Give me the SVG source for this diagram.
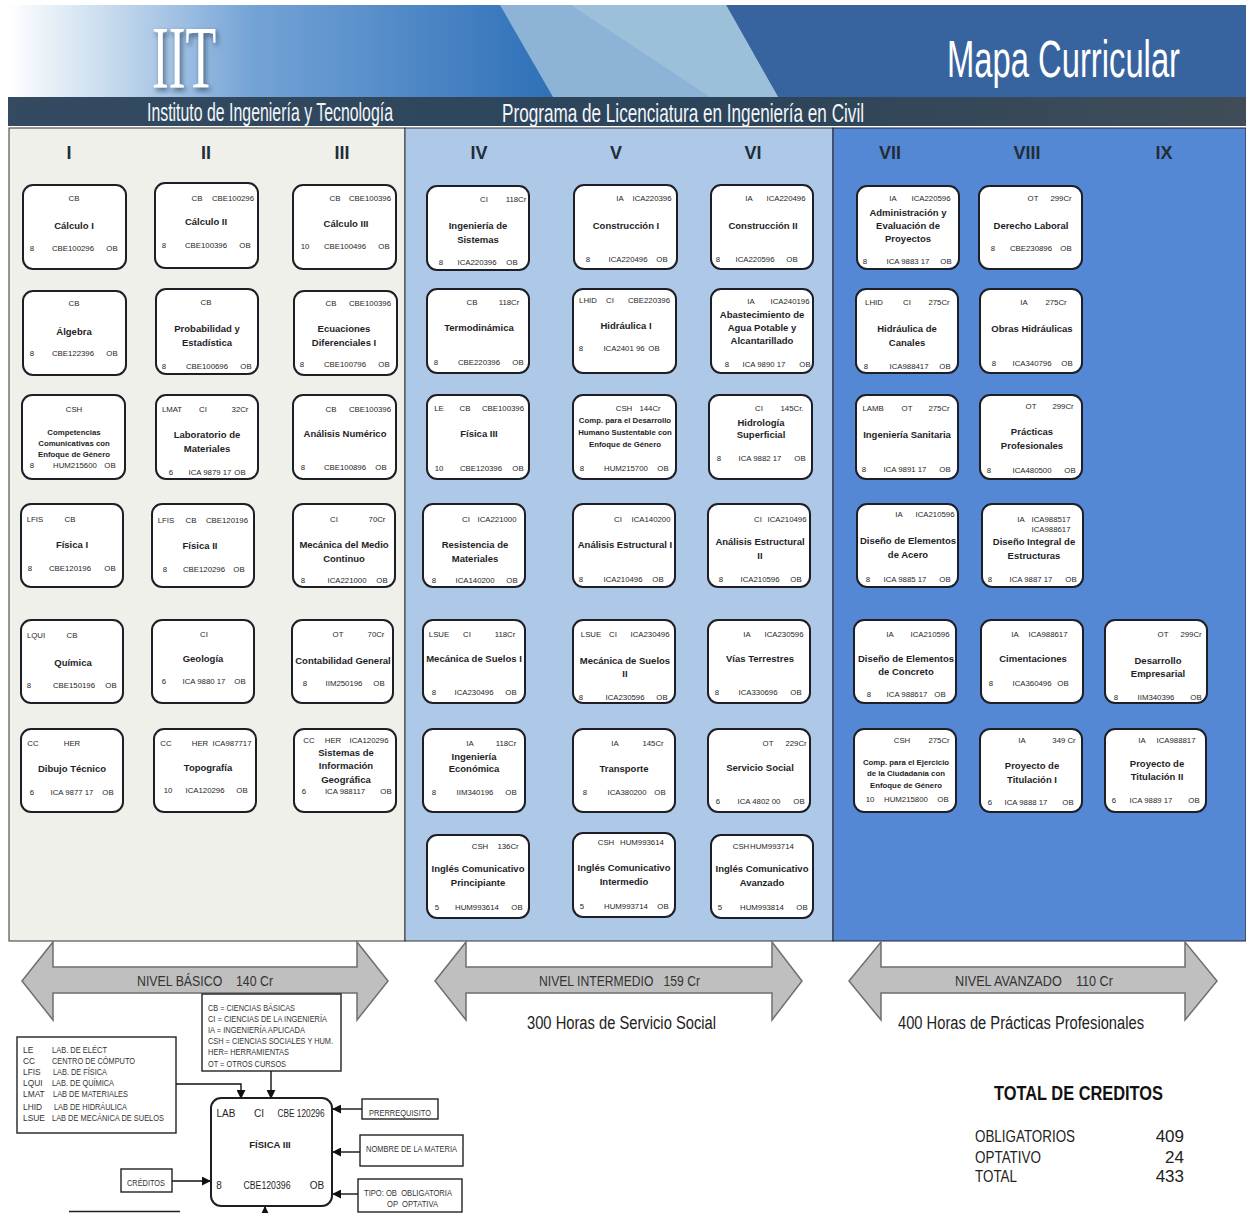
<svg xmlns="http://www.w3.org/2000/svg" width="1246" height="1213" viewBox="0 0 1246 1213">
<style>
text{font-family:"Liberation Sans",Arial,sans-serif;fill:#1e1e26}
.s{font-size:7.8px;text-anchor:middle;dominant-baseline:central}
.h{font-size:9.5px;font-weight:bold;text-anchor:middle;dominant-baseline:central}
.c{font-size:7.8px;font-weight:bold;text-anchor:middle;dominant-baseline:central}
.n{fill:#fff;stroke:#1e1e26;stroke-width:2;rx:10px;ry:10px}
.r{font-size:18px;font-weight:bold;text-anchor:middle;fill:#222c3a}
.l{fill:#fff;stroke:#222;stroke-width:1.4}
.m{font-size:8.4px;dominant-baseline:central;fill:#333}
.w{fill:#fff}
.a{fill:#bfbfbf;stroke:#6f6f6f;stroke-width:1.5}
.v{font-size:14px;fill:#333;dominant-baseline:central}
.e{stroke:#111;stroke-width:1.4;fill:none}
.g{font-size:17px;fill:#222;dominant-baseline:central}
</style>
<defs>
<linearGradient id="hg" x1="0" x2="1" y1="0" y2="0"><stop offset="0" stop-color="#fff"/><stop offset=".16" stop-color="#cfe0f0"/><stop offset=".45" stop-color="#74a3d6"/><stop offset="1" stop-color="#2f70b8"/></linearGradient>
<linearGradient id="bg" x1="0" x2="1" y1="0" y2="0"><stop offset="0" stop-color="#334a60"/><stop offset=".6" stop-color="#2c4459"/><stop offset="1" stop-color="#404d58"/></linearGradient>
<filter id="sh" x="-20%" y="-20%" width="150%" height="150%"><feDropShadow dx="2" dy="3" stdDeviation="2.5" flood-color="#123" flood-opacity=".6"/></filter>
<marker id="ar" viewBox="0 0 10 10" refX="9" refY="5" markerWidth="7" markerHeight="7" markerUnits="userSpaceOnUse" orient="auto"><path d="M0 0L10 5L0 10Z" fill="#111"/></marker>
<marker id="ab" viewBox="0 0 10 10" refX="9" refY="5" markerWidth="9" markerHeight="9" markerUnits="userSpaceOnUse" orient="auto"><path d="M0 0L10 5L0 10Z" fill="#111"/></marker>
</defs>
<rect id="page" width="1246" height="1213" fill="#fff"/>
<g id="header">
<rect x="8" y="5" width="1238" height="92" fill="#37649f"/>
<rect x="8" y="5" width="545" height="92" fill="url(#hg)"/>
<polygon points="500,5 726,5 778,97 553,97" fill="#8db4d6"/>
<polygon points="571,5 726,5 778,97 710,97" fill="#9cc0da"/>
<rect x="8" y="97" width="1238" height="29" fill="url(#bg)"/>
<text x="152" y="87" font-family="Liberation Serif" style="font-family:'Liberation Serif',serif;font-size:88px;fill:#fff;filter:url(#sh)" textLength="64" lengthAdjust="spacingAndGlyphs">IIT</text>
<text x="147" y="121" style="font-size:26px;fill:#f2f6fa" textLength="246" lengthAdjust="spacingAndGlyphs">Instituto de Ingeniería y Tecnología</text>
<text x="502" y="122" style="font-size:26px;fill:#f2f6fa" textLength="362" lengthAdjust="spacingAndGlyphs">Programa de  Licenciatura en Ingeniería en Civil</text>
<text x="947" y="77" style="font-size:52px;fill:#fff" textLength="233" lengthAdjust="spacingAndGlyphs">Mapa Curricular</text>
</g>
<g id="panels">
<rect x="9" y="128" width="396" height="813" fill="#eff0e9" stroke="#333" stroke-width="1"/>
<rect x="405" y="128" width="428" height="813" fill="#aec8e8" stroke="#333" stroke-width="1"/>
<rect x="833" y="128" width="413" height="813" fill="#5488d4" stroke="#223" stroke-width="1"/>
<text class="r" x="69" y="159">I</text><text class="r" x="206" y="159">II</text><text class="r" x="342" y="159">III</text><text class="r" x="479" y="159">IV</text><text class="r" x="616" y="159">V</text><text class="r" x="753" y="159">VI</text><text class="r" x="890" y="159">VII</text><text class="r" x="1027" y="159">VIII</text><text class="r" x="1164" y="159">IX</text>
</g>
<g id="nodes">
<g id="calculo1"><rect class="n" x="23" y="185" width="103" height="84"/><text class="s" x="74" y="198">CB</text><text class="h" x="74" y="225">Cálculo I</text><text class="s" x="32" y="248">8</text><text class="s" x="73" y="248">CBE100296</text><text class="s" x="112" y="248">OB</text></g>
<g id="calculo2"><rect class="n" x="155" y="183" width="103" height="85"/><text class="s" x="197" y="198">CB</text><text class="s" x="233" y="198">CBE100296</text><text class="h" x="206" y="221">Cálculo II</text><text class="s" x="164" y="245">8</text><text class="s" x="206" y="245">CBE100396</text><text class="s" x="245" y="245">OB</text></g>
<g id="calculo3"><rect class="n" x="293" y="185" width="103" height="84"/><text class="s" x="335" y="198">CB</text><text class="s" x="370" y="198">CBE100396</text><text class="h" x="346" y="223">Cálculo III</text><text class="s" x="305" y="246">10</text><text class="s" x="345" y="246">CBE100496</text><text class="s" x="384" y="246">OB</text></g>
<g id="sistemas"><rect class="n" x="427" y="186" width="102" height="84"/><text class="s" x="484" y="199">CI</text><text class="s" x="516" y="199">118Cr</text><text class="h" x="478" y="225">Ingeniería de</text><text class="h" x="478" y="239">Sistemas</text><text class="s" x="441" y="262">8</text><text class="s" x="477" y="262">ICA220396</text><text class="s" x="512" y="262">OB</text></g>
<g id="construccion1"><rect class="n" x="574" y="185" width="103" height="84"/><text class="s" x="620" y="198">IA</text><text class="s" x="652" y="198">ICA220396</text><text class="h" x="626" y="225">Construcción I</text><text class="s" x="588" y="259">8</text><text class="s" x="628" y="259">ICA220496</text><text class="s" x="662" y="259">OB</text></g>
<g id="construccion2"><rect class="n" x="711" y="185" width="102" height="84"/><text class="s" x="749" y="198">IA</text><text class="s" x="786" y="198">ICA220496</text><text class="h" x="763" y="225">Construcción II</text><text class="s" x="718" y="259">8</text><text class="s" x="755" y="259">ICA220596</text><text class="s" x="792" y="259">OB</text></g>
<g id="administracion"><rect class="n" x="857" y="186" width="102" height="83"/><text class="s" x="893" y="198">IA</text><text class="s" x="931" y="198">ICA220596</text><text class="h" x="908" y="212">Administración y</text><text class="h" x="908" y="225">Evaluación de</text><text class="h" x="908" y="238">Proyectos</text><text class="s" x="865" y="261">8</text><text class="s" x="908" y="261">ICA 9883 17</text><text class="s" x="946" y="261">OB</text></g>
<g id="derecho"><rect class="n" x="979" y="186" width="103" height="83"/><text class="s" x="1033" y="198">OT</text><text class="s" x="1061" y="198">299Cr</text><text class="h" x="1031" y="225">Derecho Laboral</text><text class="s" x="993" y="248">8</text><text class="s" x="1031" y="248">CBE230896</text><text class="s" x="1066" y="248">OB</text></g>

<g id="algebra"><rect class="n" x="23" y="291" width="103" height="84"/><text class="s" x="74" y="303">CB</text><text class="h" x="74" y="331">Álgebra</text><text class="s" x="32" y="353">8</text><text class="s" x="73" y="353">CBE122396</text><text class="s" x="112" y="353">OB</text></g>
<g id="probabilidad"><rect class="n" x="156" y="289" width="102" height="85"/><text class="s" x="206" y="302">CB</text><text class="h" x="207" y="328">Probabilidad y</text><text class="h" x="207" y="342">Estadística</text><text class="s" x="164" y="366">8</text><text class="s" x="207" y="366">CBE100696</text><text class="s" x="246" y="366">OB</text></g>
<g id="ecuaciones"><rect class="n" x="294" y="291" width="103" height="84"/><text class="s" x="331" y="303">CB</text><text class="s" x="370" y="303">CBE100396</text><text class="h" x="344" y="328">Ecuaciones</text><text class="h" x="344" y="342">Diferenciales I</text><text class="s" x="302" y="364">8</text><text class="s" x="345" y="364">CBE100796</text><text class="s" x="384" y="364">OB</text></g>
<g id="termodinamica"><rect class="n" x="427" y="289" width="102" height="84"/><text class="s" x="472" y="302">CB</text><text class="s" x="509" y="302">118Cr</text><text class="h" x="479" y="327">Termodinámica</text><text class="s" x="436" y="362">8</text><text class="s" x="479" y="362">CBE220396</text><text class="s" x="518" y="362">OB</text></g>
<g id="hidraulica1"><rect class="n" x="573" y="289" width="103" height="84"/><text class="s" x="588" y="300">LHID</text><text class="s" x="610" y="300">CI</text><text class="s" x="649" y="300">CBE220396</text><text class="h" x="626" y="325">Hidráulica I</text><text class="s" x="581" y="348">8</text><text class="s" x="624" y="348">ICA2401 96</text><text class="s" x="654" y="348">OB</text></g>
<g id="abastecimiento"><rect class="n" x="711" y="289" width="102" height="84"/><text class="s" x="751" y="301">IA</text><text class="s" x="790" y="301">ICA240196</text><text class="h" x="762" y="314">Abastecimiento de</text><text class="h" x="762" y="327">Agua Potable y</text><text class="h" x="762" y="340">Alcantarillado</text><text class="s" x="727" y="364">8</text><text class="s" x="764" y="364">ICA 9890 17</text><text class="s" x="805" y="364">OB</text></g>
<g id="canales"><rect class="n" x="856" y="289" width="102" height="84"/><text class="s" x="874" y="302">LHID</text><text class="s" x="907" y="302">CI</text><text class="s" x="939" y="302">275Cr</text><text class="h" x="907" y="328">Hidráulica de</text><text class="h" x="907" y="342">Canales</text><text class="s" x="866" y="366">8</text><text class="s" x="909" y="366">ICA988417</text><text class="s" x="945" y="366">OB</text></g>
<g id="obras"><rect class="n" x="980" y="289" width="102" height="84"/><text class="s" x="1024" y="302">IA</text><text class="s" x="1056" y="302">275Cr</text><text class="h" x="1032" y="328">Obras Hidráulicas</text><text class="s" x="994" y="363">8</text><text class="s" x="1032" y="363">ICA340796</text><text class="s" x="1067" y="363">OB</text></g>

<g id="competencias"><rect class="n" x="22" y="395" width="103" height="84"/><text class="s" x="74" y="409">CSH</text><text class="c" x="74" y="432">Competencias</text><text class="c" x="74" y="443">Comunicativas con</text><text class="c" x="74" y="454">Enfoque de Género</text><text class="s" x="32" y="465">8</text><text class="s" x="75" y="465">HUM215600</text><text class="s" x="110" y="465">OB</text></g>
<g id="labmateriales"><rect class="n" x="156" y="395" width="102" height="84"/><text class="s" x="172" y="409">LMAT</text><text class="s" x="203" y="409">CI</text><text class="s" x="240" y="409">32Cr</text><text class="h" x="207" y="434">Laboratorio de</text><text class="h" x="207" y="448">Materiales</text><text class="s" x="171" y="472">6</text><text class="s" x="210" y="472">ICA 9879 17</text><text class="s" x="240" y="472">OB</text></g>
<g id="numerico"><rect class="n" x="293" y="395" width="103" height="84"/><text class="s" x="331" y="409">CB</text><text class="s" x="370" y="409">CBE100396</text><text class="h" x="345" y="433">Análisis Numérico</text><text class="s" x="303" y="467">8</text><text class="s" x="345" y="467">CBE100896</text><text class="s" x="381" y="467">OB</text></g>
<g id="fisica3"><rect class="n" x="427" y="395" width="102" height="84"/><text class="s" x="439" y="408">LE</text><text class="s" x="465" y="408">CB</text><text class="s" x="503" y="408">CBE100396</text><text class="h" x="479" y="433">Física III</text><text class="s" x="439" y="468">10</text><text class="s" x="481" y="468">CBE120396</text><text class="s" x="518" y="468">OB</text></g>
<g id="desarrollohumano"><rect class="n" x="573" y="395" width="103" height="84"/><text class="s" x="624" y="408">CSH</text><text class="s" x="650" y="408">144Cr</text><text class="c" x="625" y="420">Comp. para el Desarrollo</text><text class="c" x="625" y="432">Humano Sustentable con</text><text class="c" x="625" y="444">Enfoque de Género</text><text class="s" x="582" y="468">8</text><text class="s" x="626" y="468">HUM215700</text><text class="s" x="663" y="468">OB</text></g>
<g id="hidrologia"><rect class="n" x="709" y="395" width="103" height="84"/><text class="s" x="759" y="408">CI</text><text class="s" x="792" y="408">145Cr.</text><text class="h" x="761" y="422">Hidrología</text><text class="h" x="761" y="434">Superficial</text><text class="s" x="719" y="458">8</text><text class="s" x="760" y="458">ICA 9882 17</text><text class="s" x="800" y="458">OB</text></g>
<g id="sanitaria"><rect class="n" x="856" y="395" width="102" height="84"/><text class="s" x="873" y="408">LAMB</text><text class="s" x="907" y="408">OT</text><text class="s" x="939" y="408">275Cr</text><text class="h" x="907" y="434">Ingeniería Sanitaria</text><text class="s" x="864" y="469">8</text><text class="s" x="905" y="469">ICA 9891 17</text><text class="s" x="945" y="469">OB</text></g>
<g id="practicas"><rect class="n" x="980" y="395" width="102" height="84"/><text class="s" x="1031" y="406">OT</text><text class="s" x="1063" y="406">299Cr</text><text class="h" x="1032" y="431">Prácticas</text><text class="h" x="1032" y="445">Profesionales</text><text class="s" x="989" y="470">8</text><text class="s" x="1032" y="470">ICA480500</text><text class="s" x="1070" y="470">OB</text></g>

<g id="fisica1"><rect class="n" x="21" y="504" width="102" height="83"/><text class="s" x="35" y="519">LFIS</text><text class="s" x="70" y="519">CB</text><text class="h" x="72" y="544">Física I</text><text class="s" x="30" y="568">8</text><text class="s" x="70" y="568">CBE120196</text><text class="s" x="110" y="568">OB</text></g>
<g id="fisica2"><rect class="n" x="152" y="504" width="102" height="83"/><text class="s" x="166" y="520">LFIS</text><text class="s" x="191" y="520">CB</text><text class="s" x="227" y="520">CBE120196</text><text class="h" x="200" y="545">Física II</text><text class="s" x="165" y="569">8</text><text class="s" x="204" y="569">CBE120296</text><text class="s" x="239" y="569">OB</text></g>
<g id="mediocontinuo"><rect class="n" x="293" y="504" width="102" height="83"/><text class="s" x="334" y="519">CI</text><text class="s" x="377" y="519">70Cr</text><text class="h" x="344" y="544">Mecánica del Medio</text><text class="h" x="344" y="558">Continuo</text><text class="s" x="303" y="580">8</text><text class="s" x="347" y="580">ICA221000</text><text class="s" x="382" y="580">OB</text></g>
<g id="resistencia"><rect class="n" x="423" y="504" width="102" height="83"/><text class="s" x="466" y="519">CI</text><text class="s" x="497" y="519">ICA221000</text><text class="h" x="475" y="544">Resistencia de</text><text class="h" x="475" y="558">Materiales</text><text class="s" x="434" y="580">8</text><text class="s" x="475" y="580">ICA140200</text><text class="s" x="512" y="580">OB</text></g>
<g id="estructural1"><rect class="n" x="573" y="504" width="102" height="83"/><text class="s" x="618" y="519">CI</text><text class="s" x="651" y="519">ICA140200</text><text class="h" x="625" y="544">Análisis Estructural I</text><text class="s" x="581" y="579">8</text><text class="s" x="623" y="579">ICA210496</text><text class="s" x="658" y="579">OB</text></g>
<g id="estructural2"><rect class="n" x="708" y="504" width="102" height="83"/><text class="s" x="758" y="519">CI</text><text class="s" x="787" y="519">ICA210496</text><text class="h" x="760" y="541">Análisis Estructural</text><text class="h" x="760" y="555">II</text><text class="s" x="721" y="579">8</text><text class="s" x="760" y="579">ICA210596</text><text class="s" x="796" y="579">OB</text></g>
<g id="acero"><rect class="n" x="857" y="504" width="101" height="83"/><text class="s" x="899" y="514">IA</text><text class="s" x="935" y="514">ICA210596</text><text class="h" x="908" y="540">Diseño de Elementos</text><text class="h" x="908" y="554">de Acero</text><text class="s" x="868" y="579">8</text><text class="s" x="905" y="579">ICA 9885 17</text><text class="s" x="945" y="579">OB</text></g>
<g id="integral"><rect class="n" x="982" y="504" width="101" height="83"/><text class="s" x="1021" y="519">IA</text><text class="s" x="1051" y="519">ICA988517</text><text class="s" x="1051" y="529.5">ICA988617</text><text class="h" x="1034" y="541">Diseño Integral de</text><text class="h" x="1034" y="555">Estructuras</text><text class="s" x="990" y="579">8</text><text class="s" x="1031" y="579">ICA 9887 17</text><text class="s" x="1071" y="579">OB</text></g>

<g id="quimica"><rect class="n" x="21" y="620" width="102" height="83"/><text class="s" x="36" y="635">LQUI</text><text class="s" x="72" y="635">CB</text><text class="h" x="73" y="662">Química</text><text class="s" x="29" y="685">8</text><text class="s" x="74" y="685">CBE150196</text><text class="s" x="111" y="685">OB</text></g>
<g id="geologia"><rect class="n" x="152" y="620" width="102" height="83"/><text class="s" x="204" y="634">CI</text><text class="h" x="203" y="658">Geología</text><text class="s" x="164" y="681">6</text><text class="s" x="204" y="681">ICA 9880 17</text><text class="s" x="240" y="681">OB</text></g>
<g id="contabilidad"><rect class="n" x="292" y="620" width="101" height="83"/><text class="s" x="338" y="634">OT</text><text class="s" x="376" y="634">70Cr</text><text class="h" x="343" y="660">Contabilidad General</text><text class="s" x="305" y="683">8</text><text class="s" x="344" y="683">IIM250196</text><text class="s" x="379" y="683">OB</text></g>
<g id="suelos1"><rect class="n" x="423" y="620" width="102" height="83"/><text class="s" x="439" y="634">LSUE</text><text class="s" x="467" y="634">CI</text><text class="s" x="505" y="634">118Cr</text><text class="h" x="474" y="658">Mecánica de Suelos I</text><text class="s" x="434" y="692">8</text><text class="s" x="474" y="692">ICA230496</text><text class="s" x="511" y="692">OB</text></g>
<g id="suelos2"><rect class="n" x="573" y="620" width="102" height="83"/><text class="s" x="591" y="634">LSUE</text><text class="s" x="613" y="634">CI</text><text class="s" x="650" y="634">ICA230496</text><text class="h" x="625" y="660">Mecánica de Suelos</text><text class="h" x="625" y="673">II</text><text class="s" x="581" y="697">8</text><text class="s" x="625" y="697">ICA230596</text><text class="s" x="662" y="697">OB</text></g>
<g id="vias"><rect class="n" x="708" y="620" width="102" height="83"/><text class="s" x="747" y="634">IA</text><text class="s" x="784" y="634">ICA230596</text><text class="h" x="760" y="658">Vías Terrestres</text><text class="s" x="717" y="692">8</text><text class="s" x="758" y="692">ICA330696</text><text class="s" x="796" y="692">OB</text></g>
<g id="concreto"><rect class="n" x="854" y="620" width="102" height="83"/><text class="s" x="890" y="634">IA</text><text class="s" x="930" y="634">ICA210596</text><text class="h" x="906" y="658">Diseño de Elementos</text><text class="h" x="906" y="671">de Concreto</text><text class="s" x="869" y="694">8</text><text class="s" x="907" y="694">ICA 988617</text><text class="s" x="940" y="694">OB</text></g>
<g id="cimentaciones"><rect class="n" x="981" y="620" width="102" height="83"/><text class="s" x="1015" y="634">IA</text><text class="s" x="1048" y="634">ICA988617</text><text class="h" x="1033" y="658">Cimentaciones</text><text class="s" x="991" y="683">8</text><text class="s" x="1032" y="683">ICA360496</text><text class="s" x="1063" y="683">OB</text></g>
<g id="empresarial"><rect class="n" x="1105" y="620" width="102" height="83"/><text class="s" x="1163" y="634">OT</text><text class="s" x="1191" y="634">299Cr</text><text class="h" x="1158" y="660">Desarrollo</text><text class="h" x="1158" y="673">Empresarial</text><text class="s" x="1116" y="697">8</text><text class="s" x="1156" y="697">IIM340396</text><text class="s" x="1196" y="697">OB</text></g>

<g id="dibujo"><rect class="n" x="21" y="729" width="102" height="83"/><text class="s" x="33" y="743">CC</text><text class="s" x="72" y="743">HER</text><text class="h" x="72" y="768">Dibujo Técnico</text><text class="s" x="32" y="792">6</text><text class="s" x="72" y="792">ICA 9877 17</text><text class="s" x="108" y="792">OB</text></g>
<g id="topografia"><rect class="n" x="154" y="729" width="102" height="83"/><text class="s" x="166" y="743">CC</text><text class="s" x="200" y="743">HER</text><text class="s" x="232" y="743">ICA987717</text><text class="h" x="208" y="767">Topografía</text><text class="s" x="168" y="790">10</text><text class="s" x="205" y="790">ICA120296</text><text class="s" x="242" y="790">OB</text></g>
<g id="sig"><rect class="n" x="294" y="729" width="102" height="83"/><text class="s" x="309" y="740">CC</text><text class="s" x="333" y="740">HER</text><text class="s" x="369" y="740">ICA120296</text><text class="h" x="346" y="752">Sistemas de</text><text class="h" x="346" y="765">Información</text><text class="h" x="346" y="779">Geográfica</text><text class="s" x="304" y="791">6</text><text class="s" x="345" y="791">ICA 988117</text><text class="s" x="386" y="791">OB</text></g>
<g id="economica"><rect class="n" x="423" y="729" width="102" height="83"/><text class="s" x="470" y="743">IA</text><text class="s" x="506" y="743">118Cr</text><text class="h" x="474" y="756">Ingeniería</text><text class="h" x="474" y="768">Económica</text><text class="s" x="434" y="792">8</text><text class="s" x="475" y="792">IIM340196</text><text class="s" x="511" y="792">OB</text></g>
<g id="transporte"><rect class="n" x="573" y="729" width="102" height="83"/><text class="s" x="615" y="743">IA</text><text class="s" x="653" y="743">145Cr</text><text class="h" x="624" y="768">Transporte</text><text class="s" x="585" y="792">8</text><text class="s" x="627" y="792">ICA380200</text><text class="s" x="660" y="792">OB</text></g>
<g id="servicio"><rect class="n" x="708" y="729" width="102" height="83"/><text class="s" x="768" y="743">OT</text><text class="s" x="796" y="743">229Cr</text><text class="h" x="760" y="767">Servicio Social</text><text class="s" x="718" y="801">6</text><text class="s" x="759" y="801">ICA 4802 00</text><text class="s" x="799" y="801">OB</text></g>
<g id="ciudadania"><rect class="n" x="854" y="729" width="102" height="83"/><text class="s" x="902" y="740">CSH</text><text class="s" x="939" y="740">275Cr</text><text class="c" x="906" y="762">Comp. para el Ejercicio</text><text class="c" x="906" y="773">de la Ciudadanía con</text><text class="c" x="906" y="785">Enfoque de Género</text><text class="s" x="870" y="799">10</text><text class="s" x="906" y="799">HUM215800</text><text class="s" x="943" y="799">OB</text></g>
<g id="titulacion1"><rect class="n" x="980" y="729" width="102" height="83"/><text class="s" x="1022" y="740">IA</text><text class="s" x="1064" y="740">349 Cr</text><text class="h" x="1032" y="765">Proyecto de</text><text class="h" x="1032" y="779">Titulación I</text><text class="s" x="990" y="802">6</text><text class="s" x="1026" y="802">ICA 9888 17</text><text class="s" x="1068" y="802">OB</text></g>
<g id="titulacion2"><rect class="n" x="1105" y="729" width="101" height="83"/><text class="s" x="1142" y="740">IA</text><text class="s" x="1176" y="740">ICA988817</text><text class="h" x="1157" y="763">Proyecto de</text><text class="h" x="1157" y="776">Titulación II</text><text class="s" x="1114" y="800">6</text><text class="s" x="1151" y="800">ICA 9889 17</text><text class="s" x="1194" y="800">OB</text></g>

<g id="ingles1"><rect class="n" x="427" y="835" width="102" height="83"/><text class="s" x="480" y="846">CSH</text><text class="s" x="508" y="846">136Cr</text><text class="h" x="478" y="868">Inglés Comunicativo</text><text class="h" x="478" y="882">Principiante</text><text class="s" x="437" y="907">5</text><text class="s" x="477" y="907">HUM993614</text><text class="s" x="517" y="907">OB</text></g>
<g id="ingles2"><rect class="n" x="573" y="833" width="102" height="84"/><text class="s" x="606" y="842">CSH</text><text class="s" x="642" y="842">HUM993614</text><text class="h" x="624" y="867">Inglés Comunicativo</text><text class="h" x="624" y="881">Intermedio</text><text class="s" x="582" y="906">5</text><text class="s" x="626" y="906">HUM993714</text><text class="s" x="663" y="906">OB</text></g>
<g id="ingles3"><rect class="n" x="711" y="835" width="102" height="83"/><text class="s" x="741" y="846">CSH</text><text class="s" x="772" y="846">HUM993714</text><text class="h" x="762" y="868">Inglés Comunicativo</text><text class="h" x="762" y="882">Avanzado</text><text class="s" x="720" y="907">5</text><text class="s" x="762" y="907">HUM993814</text><text class="s" x="802" y="907">OB</text></g>
</g>

<g id="levels">
<polygon class="a" points="22,981 53,942 53,967 357,967 357,942 388,981 357,1020 357,993 53,993 53,1020"/>
<polygon class="a" points="435,981 466,942 466,967 772,967 772,942 802,981 772,1020 772,993 466,993 466,1020"/>
<polygon class="a" points="849,981 881,942 881,967 1185,967 1185,942 1217,981 1185,1020 1185,993 881,993 881,1020"/>
<text class="v" x="137" y="981" xml:space="preserve" textLength="136" lengthAdjust="spacingAndGlyphs">NIVEL BÁSICO    140 Cr</text>
<text class="v" x="539" y="981" xml:space="preserve" textLength="161" lengthAdjust="spacingAndGlyphs">NIVEL INTERMEDIO   159 Cr</text>
<text class="v" x="955" y="981" xml:space="preserve" textLength="158" lengthAdjust="spacingAndGlyphs">NIVEL AVANZADO    110 Cr</text>
<text x="527" y="1029" style="font-size:18px;fill:#222" textLength="189" lengthAdjust="spacingAndGlyphs">300 Horas de Servicio Social</text>
<text x="898" y="1029" style="font-size:18px;fill:#222" textLength="246" lengthAdjust="spacingAndGlyphs">400 Horas de Prácticas Profesionales</text>
</g>

<g id="totales">
<text x="994" y="1100" style="font-size:20px;font-weight:bold;fill:#111" textLength="169" lengthAdjust="spacingAndGlyphs">TOTAL DE CREDITOS</text>
<text class="g" x="975" y="1136" textLength="100" lengthAdjust="spacingAndGlyphs">OBLIGATORIOS</text><text class="g" x="1184" y="1136" text-anchor="end">409</text>
<text class="g" x="975" y="1157" textLength="66" lengthAdjust="spacingAndGlyphs">OPTATIVO</text><text class="g" x="1184" y="1157" text-anchor="end">24</text>
<text class="g" x="975" y="1176" textLength="42" lengthAdjust="spacingAndGlyphs">TOTAL</text><text class="g" x="1184" y="1176" text-anchor="end">433</text>
</g>

<g id="connectors">
<path class="e" marker-end="url(#ab)" d="M176 1084H241V1098"/>
<path class="e" marker-end="url(#ab)" d="M271 1071V1098"/>
<path class="e" marker-end="url(#ab)" d="M362 1109H333"/>
<path class="e" marker-end="url(#ab)" d="M360 1152H333"/>
<path class="e" marker-end="url(#ab)" d="M358 1194H333"/>
<path class="e" marker-end="url(#ab)" d="M172 1181H210"/>
<path class="e" marker-end="url(#ab)" d="M265 1213V1207"/>
</g>

<g id="legend-areas">
<rect class="l" x="202" y="994" width="139" height="77"/>
<text class="m" x="208" y="1008" textLength="87" lengthAdjust="spacingAndGlyphs">CB = CIENCIAS BÁSICAS</text>
<text class="m" x="208" y="1019" textLength="119" lengthAdjust="spacingAndGlyphs">CI = CIENCIAS DE LA INGENIERÍA</text>
<text class="m" x="208" y="1030" textLength="97" lengthAdjust="spacingAndGlyphs">IA = INGENIERÍA APLICADA</text>
<text class="m" x="208" y="1041" textLength="125" lengthAdjust="spacingAndGlyphs">CSH = CIENCIAS SOCIALES Y HUM.</text>
<text class="m" x="208" y="1052" textLength="81" lengthAdjust="spacingAndGlyphs">HER= HERRAMIENTAS</text>
<text class="m" x="208" y="1064" textLength="78" lengthAdjust="spacingAndGlyphs">OT = OTROS CURSOS</text>
</g>
<g id="legend-labs">
<rect class="l" x="17" y="1037" width="159" height="96"/>
<text class="m" x="23" y="1050">LE</text><text class="m" x="52" y="1050" textLength="55" lengthAdjust="spacingAndGlyphs">LAB. DE ELÉCT</text>
<text class="m" x="23" y="1061">CC</text><text class="m" x="52" y="1061" textLength="83" lengthAdjust="spacingAndGlyphs">CENTRO DE CÓMPUTO</text>
<text class="m" x="23" y="1072">LFIS</text><text class="m" x="53" y="1072" textLength="54" lengthAdjust="spacingAndGlyphs">LAB. DE FÍSICA</text>
<text class="m" x="23" y="1083">LQUI</text><text class="m" x="52" y="1083" textLength="62" lengthAdjust="spacingAndGlyphs">LAB. DE QUÍMICA</text>
<text class="m" x="23" y="1094">LMAT</text><text class="m" x="53" y="1094" textLength="75" lengthAdjust="spacingAndGlyphs">LAB DE MATERIALES</text>
<text class="m" x="23" y="1107">LHID</text><text class="m" x="54" y="1107" textLength="73" lengthAdjust="spacingAndGlyphs">LAB DE HIDRÁULICA</text>
<text class="m" x="23" y="1118">LSUE</text><text class="m" x="52" y="1118" textLength="112" lengthAdjust="spacingAndGlyphs">LAB DE MECÁNICA DE SUELOS</text>
</g>
<g id="legend-node">
<rect class="n" x="211" y="1098" width="121" height="108"/>
<text class="s" style="font-size:10px" x="226" y="1113">LAB</text><text class="s" style="font-size:10px" x="259" y="1113">CI</text><text class="s" style="font-size:10px" x="301" y="1113" textLength="47" lengthAdjust="spacingAndGlyphs">CBE 120296</text>
<text class="h" x="270" y="1144">FÍSICA III</text>
<text class="s" style="font-size:10px" x="219" y="1185">8</text><text class="s" style="font-size:10px" x="267" y="1185" textLength="47" lengthAdjust="spacingAndGlyphs">CBE120396</text><text class="s" style="font-size:10px" x="317" y="1185">OB</text>
</g>
<g id="legend-prerrequisito"><rect class="l" x="362" y="1099" width="76" height="20"/><text class="m" x="369" y="1113" textLength="62" lengthAdjust="spacingAndGlyphs">PRERREQUISITO</text></g>
<g id="legend-nombre"><rect class="l" x="360" y="1135" width="103" height="31"/><text class="m" x="366" y="1149" textLength="91" lengthAdjust="spacingAndGlyphs">NOMBRE DE LA MATERIA</text></g>
<g id="legend-tipo"><rect class="l" x="358" y="1179" width="104" height="33"/><text class="m" x="364" y="1193" xml:space="preserve" textLength="88" lengthAdjust="spacingAndGlyphs">TIPO: OB  OBLIGATORIA</text><text class="m" x="387" y="1204" xml:space="preserve" textLength="51" lengthAdjust="spacingAndGlyphs">OP  OPTATIVA</text></g>
<g id="legend-creditos"><rect class="l" x="121" y="1169" width="51" height="23"/><text class="m" x="127" y="1183" textLength="38" lengthAdjust="spacingAndGlyphs">CRÉDITOS</text></g>
<line class="l" x1="69" y1="1211.5" x2="180" y2="1211.5"/>
</svg>
